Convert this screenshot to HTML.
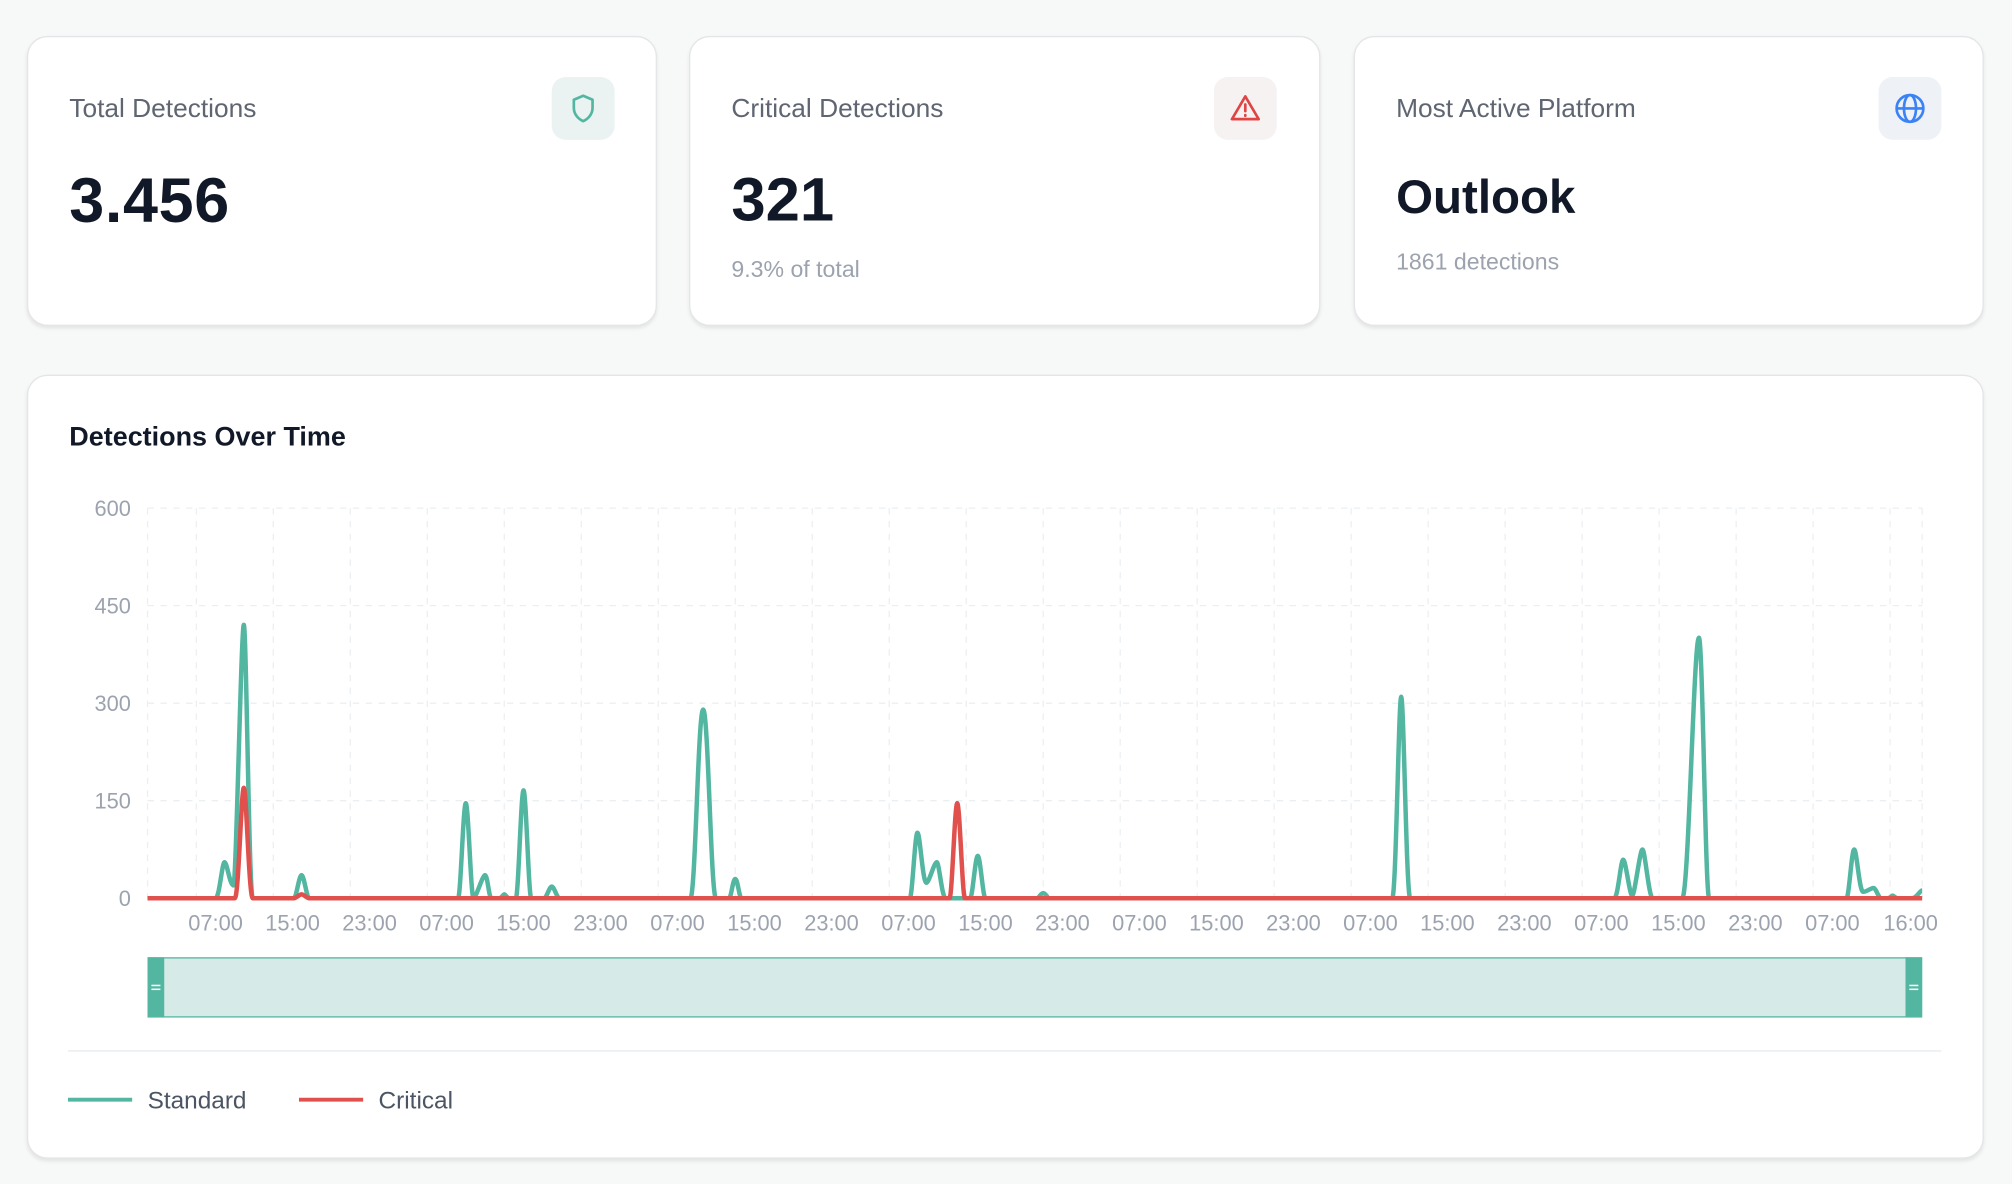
<!DOCTYPE html>
<html><head><meta charset="utf-8"><style>
html,body{margin:0;padding:0;}
body{width:2012px;height:1184px;overflow:hidden;background:#f7f8f8;font-family:"Liberation Sans",Arial,sans-serif;}
#w{position:absolute;left:0;top:0;width:1568px;height:923px;transform:scale(1.28316);transform-origin:0 0;}
.card{position:absolute;background:#fff;border:1px solid #e3e5e8;border-radius:16px;box-shadow:0 2px 3px rgba(0,0,0,0.08);box-sizing:border-box;}
.t{position:absolute;left:32px;top:44px;font-size:20.5px;color:#5f6672;}
.n{position:absolute;left:32px;font-weight:bold;color:#111827;}
.s{position:absolute;left:32px;font-size:18px;color:#9ca3af;}
.ic{position:absolute;left:408px;top:31px;width:49px;height:49px;border-radius:11px;}
.ic svg{position:absolute;left:12px;top:12px;}
.lab{font-size:17px;fill:#9ca3af;font-family:"Liberation Sans",Arial,sans-serif;}
</style></head><body><div id="w">
<div class="card" style="left:21px;top:28px;width:491px;height:226px">
 <div class="t">Total Detections</div>
 <div class="n" style="top:100px;font-size:49px;letter-spacing:0.5px">3.456</div>
 <div class="ic" style="background:#eaf3f2"><svg width="25" height="25" viewBox="0 0 24 24" fill="none" stroke="#52b6a1" stroke-width="2" stroke-linejoin="round"><path d="M12 2.5l7 3v6c0 5-3.5 8.5-7 10-3.5-1.5-7-5-7-10v-6z"/></svg></div>
</div>
<div class="card" style="left:537px;top:28px;width:492px;height:226px">
 <div class="t">Critical Detections</div>
 <div class="n" style="top:100px;font-size:48px">321</div>
 <div class="s" style="top:171px">9.3% of total</div>
 <div class="ic" style="background:#f6f2f2"><svg width="25" height="25" viewBox="0 0 24 24" fill="none" stroke="#e04545" stroke-width="2" stroke-linejoin="round" stroke-linecap="round"><path d="M12 3L2 20h20z"/><path d="M12 9v5M12 17v.5"/></svg></div>
</div>
<div class="card" style="left:1055px;top:28px;width:491px;height:226px">
 <div class="t">Most Active Platform</div>
 <div class="n" style="top:104px;font-size:37px">Outlook</div>
 <div class="s" style="top:165px">1861 detections</div>
 <div class="ic" style="background:#eef2f7"><svg width="25" height="25" viewBox="0 0 24 24" fill="none" stroke="#3b82f6" stroke-width="2"><circle cx="12" cy="12" r="10"/><path d="M2 12h20"/><ellipse cx="12" cy="12" rx="4.5" ry="10"/></svg></div>
</div>
<div class="card" style="left:21px;top:292px;width:1525px;height:611px">
 <div style="position:absolute;left:32px;top:36px;font-size:21px;font-weight:bold;color:#111827">Detections Over Time</div>
</div>
<svg style="position:absolute;left:0;top:0" width="1568" height="923" viewBox="0 0 1568 923">
 <g stroke="#eceff2" stroke-width="1" stroke-dasharray="5,5">
  <line x1="115" y1="396" x2="1498" y2="396"/><line x1="115" y1="472" x2="1498" y2="472"/><line x1="115" y1="548" x2="1498" y2="548"/><line x1="115" y1="624" x2="1498" y2="624"/>
  <line x1="115" y1="396" x2="115" y2="700"/><line x1="153" y1="396" x2="153" y2="700"/><line x1="213" y1="396" x2="213" y2="700"/><line x1="273" y1="396" x2="273" y2="700"/><line x1="333" y1="396" x2="333" y2="700"/><line x1="393" y1="396" x2="393" y2="700"/><line x1="453" y1="396" x2="453" y2="700"/><line x1="513" y1="396" x2="513" y2="700"/><line x1="573" y1="396" x2="573" y2="700"/><line x1="633" y1="396" x2="633" y2="700"/><line x1="693" y1="396" x2="693" y2="700"/><line x1="753" y1="396" x2="753" y2="700"/><line x1="813" y1="396" x2="813" y2="700"/><line x1="873" y1="396" x2="873" y2="700"/><line x1="933" y1="396" x2="933" y2="700"/><line x1="993" y1="396" x2="993" y2="700"/><line x1="1053" y1="396" x2="1053" y2="700"/><line x1="1113" y1="396" x2="1113" y2="700"/><line x1="1173" y1="396" x2="1173" y2="700"/><line x1="1233" y1="396" x2="1233" y2="700"/><line x1="1293" y1="396" x2="1293" y2="700"/><line x1="1353" y1="396" x2="1353" y2="700"/><line x1="1413" y1="396" x2="1413" y2="700"/><line x1="1473" y1="396" x2="1473" y2="700"/><line x1="1498" y1="396" x2="1498" y2="700"/>
 </g>
 <g class="lab" text-anchor="end">
  <text x="102" y="402" class="lab">600</text><text x="102" y="478" class="lab">450</text><text x="102" y="554" class="lab">300</text><text x="102" y="630" class="lab">150</text><text x="102" y="706" class="lab">0</text>
 </g>
 <g text-anchor="middle">
  <text class="lab" x="168" y="725">07:00</text><text class="lab" x="228" y="725">15:00</text><text class="lab" x="288" y="725">23:00</text>
  <text class="lab" x="348" y="725">07:00</text><text class="lab" x="408" y="725">15:00</text><text class="lab" x="468" y="725">23:00</text>
  <text class="lab" x="528" y="725">07:00</text><text class="lab" x="588" y="725">15:00</text><text class="lab" x="648" y="725">23:00</text>
  <text class="lab" x="708" y="725">07:00</text><text class="lab" x="768" y="725">15:00</text><text class="lab" x="828" y="725">23:00</text>
  <text class="lab" x="888" y="725">07:00</text><text class="lab" x="948" y="725">15:00</text><text class="lab" x="1008" y="725">23:00</text>
  <text class="lab" x="1068" y="725">07:00</text><text class="lab" x="1128" y="725">15:00</text><text class="lab" x="1188" y="725">23:00</text>
  <text class="lab" x="1248" y="725">07:00</text><text class="lab" x="1308" y="725">15:00</text><text class="lab" x="1368" y="725">23:00</text>
  <text class="lab" x="1428" y="725">07:00</text><text class="lab" x="1489" y="725">16:00</text>
 </g>
 <path fill="none" stroke="#52b6a1" stroke-width="3.5" stroke-linejoin="round" d="M115,700 L168,700 C171,700 173,672 175,672 C177,672 179,690 182,690 C184,690 188,487 190,487 C192,487 194,700 197,700 L229,700 C231,700 233,682 235,682 C237,682 239,700 241,700 L357,700 C359,700 361,626 363,626 C365,626 367,700 369,700 C371,700 376,682 378,682 C380,682 381,700 383,700 L389,700 C391,700 392,697 393,697 C394,697 395,700 397,700 L402,700 C404,700 406,616 408,616 C410,616 412,700 414,700 L424,700 C426,700 428,691 430,691 C432,691 434,700 436,700 L538,700 C542,700 544,553 548,553 C552,553 554,700 558,700 L568,700 C570,700 571,685 573,685 C575,685 576,700 578,700 L709,700 C711,700 713,649 715,649 C717,649 719,688 722,688 C724,688 728,672 730,672 C732,672 734,700 737,700 L756,700 C758,700 760,667 762,667 C764,667 766,700 768,700 L808,700 C810,700 811,696 813,696 C815,696 816,700 818,700 L1085,700 C1088,700 1090,543 1092,543 C1094,543 1096,700 1099,700 L1258,700 C1261,700 1263,670 1265,670 C1267,670 1270,698 1272,698 C1274,698 1278,662 1280,662 C1282,662 1285,700 1288,700 L1311,700 C1316,700 1320,497 1324,497 C1327,497 1329,700 1332,700 L1439,700 C1441,700 1443,662 1445,662 C1447,662 1449,695 1452,695 C1455,695 1458,692 1460,692 C1462,692 1464,700 1466,700 L1471,700 C1473,700 1474,698 1475,698 C1476,698 1477,700 1479,700 L1490,700 C1494,700 1496,694 1498,694"/>
 <path fill="none" stroke="#e0504c" stroke-width="3.5" stroke-linejoin="round" d="M115,700 L183,700 C186,700 188,614 190,614 C192,614 194,700 197,700 L229,700 C231,700 233,697 235,697 C237,697 239,700 241,700 L740,700 C742,700 744,626 746,626 C748,626 750,700 752,700 L1498,700"/>
 <rect x="115.5" y="746.5" width="1382" height="46" fill="#d6ebe8" stroke="#52b6a1" stroke-width="1"/>
 <rect x="115" y="746" width="13" height="47" fill="#52b6a1"/>
 <rect x="1485" y="746" width="13" height="47" fill="#52b6a1"/>
 <g stroke="#fff" stroke-width="1.2"><line x1="118" y1="768" x2="125" y2="768"/><line x1="118" y1="771" x2="125" y2="771"/><line x1="1488" y1="768" x2="1495" y2="768"/><line x1="1488" y1="771" x2="1495" y2="771"/></g>
 <line x1="53" y1="819" x2="1513" y2="819" stroke="#eef1f4" stroke-width="1.5"/>
 <line x1="53" y1="857" x2="103" y2="857" stroke="#52b6a1" stroke-width="3"/>
 <text x="115" y="864" font-size="19" fill="#4b5563" font-family="Liberation Sans,Arial,sans-serif">Standard</text>
 <line x1="233" y1="857" x2="283" y2="857" stroke="#e0504c" stroke-width="3"/>
 <text x="295" y="864" font-size="19" fill="#4b5563" font-family="Liberation Sans,Arial,sans-serif">Critical</text>
</svg>
</div></body></html>
